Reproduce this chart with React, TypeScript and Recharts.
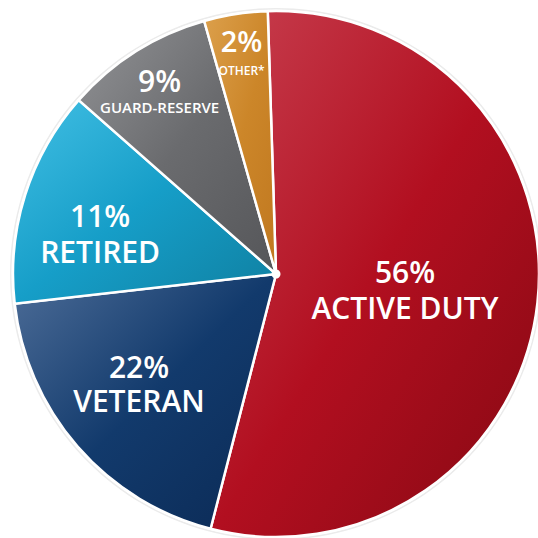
import React from 'react';
import { PieChart, Pie, Cell } from 'recharts';

const categories = ['ACTIVE DUTY', 'VETERAN', 'RETIRED', 'GUARD-RESERVE', 'OTHER*'];
// percentages printed on the slices
const labelPercents = [56, 22, 11, 9, 2];
// slice sizes as drawn in the picture (measured arc shares, %)
const sliceShares = [54.5, 19.2, 13.3, 9.1, 3.9];

const gradients = [
  { id: 'gRed', stops: ['#c84050', '#b20f20', '#850812'] },
  { id: 'gBlue', stops: ['#4d6d98', '#123a6c', '#0b2a55'] },
  { id: 'gCyan', stops: ['#42bfe4', '#169ec8', '#0f7fa0'] },
  { id: 'gGray', stops: ['#939497', '#6a6b6e', '#555659'] },
  { id: 'gOrange', stops: ['#dca04c', '#cc8629', '#c07820'] },
];

// label placement style: angle nudge (deg), radius ratio, font sizes, line offsets
const labelStyle = [
  { da: -0.5, rr: 0.494, f1: 30, f2: 30, o1: -6, o2: 29.5 },
  { da: -2.6, rr: 0.665, f1: 30, f2: 30, o1: -5, o2: 29 },
  { da: 4.2, rr: 0.687, f1: 30, f2: 30, o1: -6, o2: 30 },
  { da: 0.3, rr: 0.823, f1: 30, f2: 15, o1: 1, o2: 22 },
  { da: 0, rr: 0.854, f1: 29, f2: 12, o1: -0.5, o2: 23 },
];

const data = categories.map((name, i) => ({ name, value: sliceShares[i], pct: labelPercents[i] }));
const RAD = Math.PI / 180;
const FONT = '"Open Sans", "Noto Sans", sans-serif';
const CX = 276;
const CY = 274;
const R = 263;

const renderLabel = (props: any) => {
  const { cx, cy, midAngle, outerRadius, index } = props;
  const s = labelStyle[index];
  const a = (midAngle + s.da) * RAD;
  const x = cx + outerRadius * s.rr * Math.cos(a);
  const y = cy - outerRadius * s.rr * Math.sin(a);
  return (
    <g>
      <text x={x} y={y + s.o1} textAnchor="middle" fill="#fff" fontSize={s.f1} fontWeight={600} fontFamily={FONT}>
        {labelPercents[index]}%
      </text>
      <text x={x} y={y + s.o2} textAnchor="middle" fill="#fff" fontSize={s.f2} fontWeight={600} fontFamily={FONT}>
        {categories[index]}
      </text>
    </g>
  );
};

export default function App() {
  return (
    <div style={{ position: 'absolute', left: 0, top: 0, width: 538, height: 538, background: '#fff', overflow: 'hidden' }}>
      <PieChart width={538} height={538} margin={{ top: 0, right: 0, bottom: 0, left: 0 }}>
        <defs>
          {gradients.map((g) => (
            <linearGradient key={g.id} id={g.id} x1="0" y1="0" x2="1" y2="1">
              <stop offset="0%" stopColor={g.stops[0]} />
              <stop offset="50%" stopColor={g.stops[1]} />
              <stop offset="100%" stopColor={g.stops[2]} />
            </linearGradient>
          ))}
        </defs>
        <Pie
          data={[{ v: 1 }]}
          dataKey="v"
          cx={CX}
          cy={CY}
          innerRadius={R + 1.5}
          outerRadius={R + 3}
          fill="#ebebeb"
          stroke="none"
          isAnimationActive={false}
        />
        <Pie
          data={data}
          dataKey="value"
          nameKey="name"
          cx={CX}
          cy={CY}
          outerRadius={R}
          startAngle={91.8}
          endAngle={-268.2}
          stroke="#ffffff"
          strokeWidth={2.5}
          label={renderLabel}
          labelLine={false}
          isAnimationActive={false}
        >
          {data.map((d, i) => (
            <Cell key={d.name} fill={`url(#${gradients[i].id})`} />
          ))}
        </Pie>
        <Pie
          data={[{ v: 1 }]}
          dataKey="v"
          cx={CX}
          cy={CY}
          outerRadius={4.5}
          fill="#ffffff"
          stroke="none"
          isAnimationActive={false}
        />
      </PieChart>
    </div>
  );
}
